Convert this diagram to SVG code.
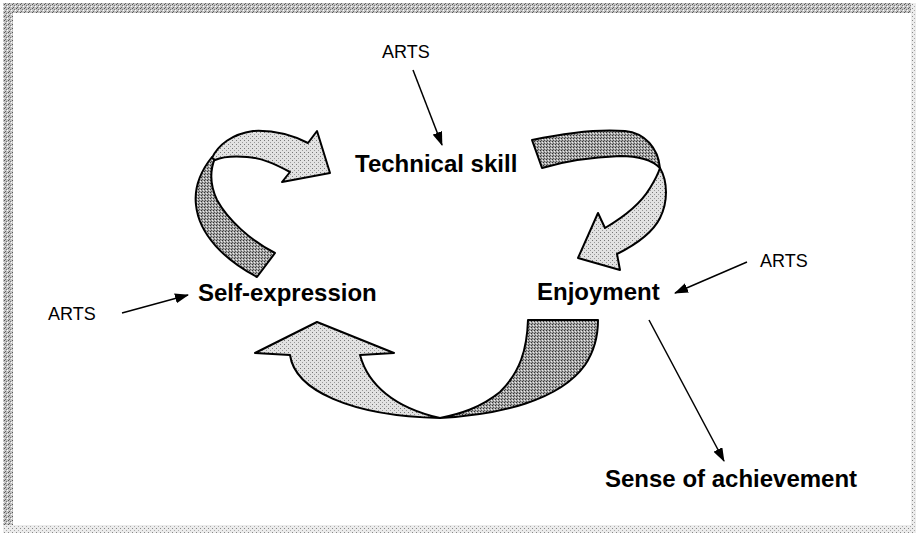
<svg xmlns="http://www.w3.org/2000/svg" width="917" height="535" viewBox="0 0 917 535">
  <defs>
    <style>
      .lbl { font-family: "Liberation Sans", Arial, sans-serif; fill: #000; }
      .arts { font-size: 18px; }
      .node { font-size: 24px; font-weight: bold; }
      .ptr { stroke: #000; stroke-width: 1.5; fill: none; marker-end: url(#head); }
      .light { fill: url(#stippleLight); stroke: #000; stroke-width: 2; stroke-linejoin: round; }
      .dark { fill: url(#stippleDark); stroke: #000; stroke-width: 2; stroke-linejoin: round; }
    </style>
    <marker id="head" viewBox="0 0 14 10" refX="13" refY="5" markerWidth="14" markerHeight="10" markerUnits="userSpaceOnUse" orient="auto">
      <path d="M0,0 L14,5 L0,10 Z" fill="#000"/>
    </marker>
    <pattern id="stippleLight" width="4" height="4" patternUnits="userSpaceOnUse">
      <rect width="4" height="4" fill="#e2e2e2"/>
      <rect x="0" y="0" width="1" height="1" fill="#777"/>
      <rect x="2" y="2" width="1" height="1" fill="#999"/>
    </pattern>
    <pattern id="stippleDark" width="3" height="3" patternUnits="userSpaceOnUse">
      <rect width="3" height="3" fill="#a6a6a6"/>
      <rect x="0" y="0" width="1" height="1" fill="#333"/>
      <rect x="1" y="2" width="1" height="1" fill="#555"/>
      <rect x="2" y="1" width="1" height="1" fill="#eee"/>
    </pattern>
    <pattern id="frameDark" width="4" height="4" patternUnits="userSpaceOnUse">
      <rect width="4" height="4" fill="#c4c4c4"/>
      <rect x="0" y="0" width="1" height="1" fill="#555"/>
      <rect x="2" y="1" width="1" height="1" fill="#777"/>
      <rect x="1" y="3" width="1" height="1" fill="#666"/>
      <rect x="3" y="2" width="1" height="1" fill="#fff"/>
    </pattern>
    <pattern id="frameLight" width="4" height="4" patternUnits="userSpaceOnUse">
      <rect width="4" height="4" fill="#ececec"/>
      <rect x="0" y="0" width="1" height="1" fill="#888"/>
      <rect x="2" y="2" width="1" height="1" fill="#aaa"/>
    </pattern>
  </defs>

  <rect width="917" height="535" fill="#fff"/>

  <!-- scanned frame -->
  <g id="frame">
    <rect x="3" y="3" width="911" height="10" fill="url(#frameDark)"/>
    <rect x="3" y="3" width="10" height="529" fill="url(#frameDark)"/>
    <rect x="3" y="525" width="911" height="8" fill="url(#frameLight)"/>
    <rect x="911" y="3" width="5" height="530" fill="url(#frameLight)"/>
  </g>

  <g id="connectors">
    <!-- cycle arrow: Self-expression -> Technical skill -->
    <path class="dark" d="M212,157 C200,172 194,188 196,205 C199,235 225,260 257,277 L275,253 C250,240 228,220 217,200 C210,185 210,170 215,158 Z"/>
    <path class="light" d="M212,158 C218,145 232,134 253,131 C272,130 292,135 308,143 L317,131 L330,173 L282,182 L290,172 C275,164 262,158 247,157 C235,156 222,157 215,160 Z"/>

    <!-- cycle arrow: Technical skill -> Enjoyment -->
    <path class="dark" d="M532,140 C565,133 600,129 625,131 C645,133 658,148 660,168 C652,160 640,156 620,156 C595,157 565,161 542,168 Z"/>
    <path class="light" d="M660,168 C668,182 668,202 660,218 C652,234 635,245 617,254 L620,270 L578,258 L598,213 L605,228 C622,218 640,205 650,188 C655,180 658,174 660,168 Z"/>

    <!-- cycle arrow: Enjoyment -> Self-expression -->
    <path class="dark" d="M440,418 C500,415 560,400 585,365 C595,350 598,335 598,320 L528,320 C527,350 520,372 500,392 C480,408 460,414 440,418 Z"/>
    <path class="light" d="M317,322 L394,353 L360,355 C368,385 395,408 440,418 C350,416 295,390 290,355 L255,353 Z"/>

    <!-- ARTS pointers -->
    <line class="ptr" x1="413" y1="70" x2="442" y2="145"/>
    <line class="ptr" x1="122" y1="313" x2="188" y2="295"/>
    <line class="ptr" x1="747" y1="262" x2="675" y2="293"/>
    <line class="ptr" x1="649" y1="320" x2="724" y2="461"/>
  </g>

  <g id="node-arts-top"><text class="lbl arts" x="382" y="58">ARTS</text></g>
  <g id="node-technical-skill"><text class="lbl node" x="355" y="172">Technical skill</text></g>
  <g id="node-arts-left"><text class="lbl arts" x="48" y="320">ARTS</text></g>
  <g id="node-self-expression"><text class="lbl node" x="198" y="301">Self-expression</text></g>
  <g id="node-enjoyment"><text class="lbl node" x="537" y="300">Enjoyment</text></g>
  <g id="node-arts-right"><text class="lbl arts" x="760" y="267">ARTS</text></g>
  <g id="node-sense-of-achievement"><text class="lbl node" x="605" y="487">Sense of achievement</text></g>
</svg>
